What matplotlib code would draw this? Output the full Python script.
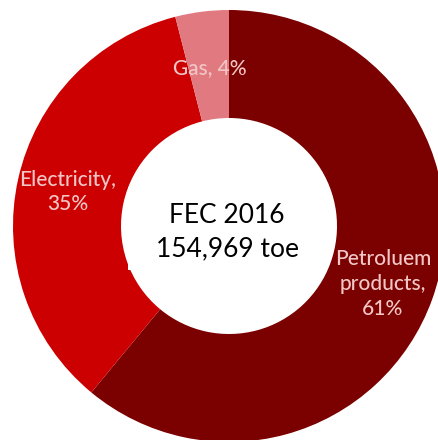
import matplotlib
matplotlib.use('Agg')
import matplotlib.pyplot as plt
from matplotlib.patches import Rectangle

# ---------------------------------------------------------------- DATA
categories = ['Petroluem\nproducts,', 'Electricity,', 'Gas,']
shares = [61, 35, 4]
colors = ['#7b0000', '#cc0000', '#e07a80']
centre_title = 'FEC 2016'
centre_value = '154,969 toe'

plt.rcParams['font.family'] = ['Lato', 'DejaVu Sans']

# ---------------------------------------------------------------- PLOT
W, H = 438, 440
fig = plt.figure(figsize=(W / 100, H / 100), dpi=100)
ax = fig.add_axes([0, 0, 1, 1])

cx, cy, r = 229, H - 226, 216
wedges, _ = ax.pie(shares, colors=colors, startangle=90, counterclock=False,
                   center=(cx, cy), radius=r,
                   wedgeprops=dict(width=r * 0.5, edgecolor='none'))
ax.set_xlim(0, W)
ax.set_ylim(0, H)
ax.set_aspect('equal')
ax.axis('off')

# white text box behind the centre label (clips the ring a bit on the left)
ax.add_patch(Rectangle((128, H - 270), 100, 83, facecolor='white',
                       edgecolor='none', zorder=3))

label_col = '#f2c6c6'
label_pos = [(383, H - 284), (68, H - 192), (210, H - 68)]
for name, val, (x, y) in zip(categories, shares, label_pos):
    if name.startswith('Gas'):
        txt = f'{name} {val}%'
    else:
        txt = f'{name}\n{val}%'
    ax.text(x, y, txt, ha='center', va='center', color=label_col,
            fontsize=15, fontweight='medium', linespacing=1.3, zorder=4)

ax.text(cx - 2, H - 232, f'{centre_title}\n{centre_value}', ha='center',
        va='center', color='black', fontsize=19, linespacing=1.4, zorder=4)

fig.savefig('out.png', dpi=100)
